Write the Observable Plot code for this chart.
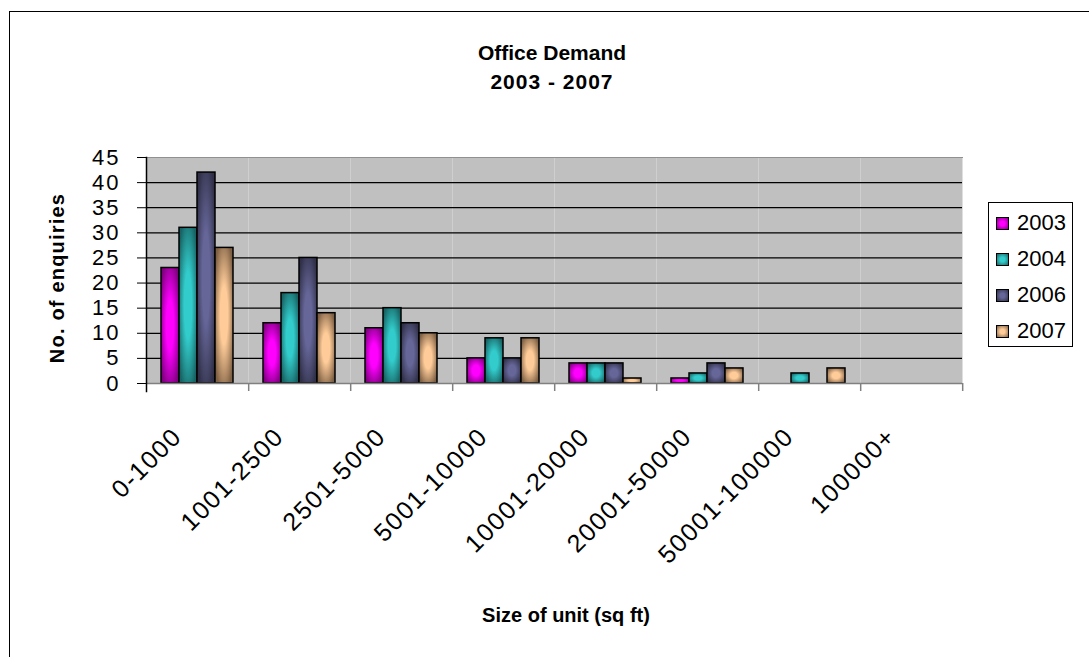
<!DOCTYPE html>
<html>
<head>
<meta charset="utf-8">
<script src="https://cdn.jsdelivr.net/npm/d3@7"></script>
<script src="https://cdn.jsdelivr.net/npm/@observablehq/plot@0.6"></script>
<style>
  html, body { margin: 0; padding: 0; background: #fff; }
  body { width: 1089px; height: 657px; position: relative; overflow: hidden;
         font-family: "Liberation Sans", Arial, sans-serif; color: #000; }
  #border { position: absolute; left: 9px; top: 11px; width: 2000px; height: 2000px;
            border-left: 1.5px solid #000; border-top: 1.5px solid #000; }
  #chart { position: absolute; left: 0; top: 0; }
  .title { position: absolute; left: 552px; transform: translateX(-50%); font-weight: bold;
           font-size: 21px; line-height: 21px; white-space: nowrap; }
  #ytitle { position: absolute; left: 57px; top: 278px; transform: translate(-50%, -50%) rotate(-90deg);
            font-weight: bold; font-size: 20px; letter-spacing: 1.2px; white-space: nowrap; line-height: 20px; }
  #xtitle { position: absolute; left: 566px; top: 605px; transform: translateX(-50%);
            font-weight: bold; font-size: 20px; line-height: 20px; white-space: nowrap; }
  #legend { position: absolute; left: 988px; top: 202px; width: 85px; height: 145px; box-sizing: border-box;
            border: 1px solid #000; background: #fff; padding-top: 2px; }
  .item { height: 36px; display: flex; align-items: center; font-size: 22px; }
  .sw { width: 13px; height: 13px; box-sizing: border-box; border: 1px solid #000; margin-left: 7px; margin-right: 8px; }
</style>
</head>
<body>
<div id="border"></div>
<div id="chart"></div>
<div class="title" id="t1" style="top:42px">Office Demand</div>
<div class="title" id="t2" style="top:71px; letter-spacing:1px">2003 - 2007</div>
<div id="ytitle">No. of enquiries</div>
<div id="xtitle">Size of unit (sq ft)</div>
<div id="legend"></div>
<script>
// ---- data ----
const categories = ["0-1000", "1001-2500", "2501-5000", "5001-10000", "10001-20000", "20001-50000", "50001-100000", "100000+"];
const years = ["2003", "2004", "2006", "2007"];
const v2003 = [23, 12, 11, 5, 4, 1, 0, 0];
const v2004 = [31, 18, 15, 9, 4, 2, 2, 0];
const v2006 = [42, 25, 12, 5, 4, 4, 0, 0];
const v2007 = [27, 14, 10, 9, 1, 3, 3, 0];
const yTicks = [0, 5, 10, 15, 20, 25, 30, 35, 40, 45];
const lightColors = ["#FF00FF", "#33CCCC", "#666699", "#FFCC99"];
const darkColors = ["#800080", "#186464", "#303048", "#7E6044"];

const seriesValues = [v2003, v2004, v2006, v2007];
const rows = categories.flatMap((c, i) => years.map((y, j) => ({category: c, year: y, value: seriesValues[j][i]})));

// ---- layout ----
const W = 1089, H = 657;
const mL = 144, mR = 126, mT = 157, mB = 274;
const step = (W - mL - mR) / categories.length;
const font = '"Liberation Sans", Arial, sans-serif';

const chart = Plot.plot({
  width: W, height: H,
  marginLeft: mL, marginRight: mR, marginTop: mT, marginBottom: mB,
  style: {fontFamily: font, background: "none", overflow: "visible", color: "#000"},
  fx: {domain: categories, padding: 0, label: null},
  x: {domain: years, paddingInner: 0, paddingOuter: 0.768, axis: null},
  y: {domain: [0, 45]},
  color: {domain: years, range: years.map(y => `url(#grad-${y})`)},
  marks: [
    Plot.frame({fill: "#C0C0C0", stroke: null}),
    Plot.gridY(yTicks.filter(t => t > 0 && t < 45), {stroke: "#000", strokeOpacity: 1, strokeWidth: 1.2}),
    Plot.frame({anchor: "top", stroke: "#909090"}),
    Plot.barY(rows, {filter: d => d.value > 0, fx: "category", x: "year", y: "value", fill: "year",
                     stroke: "#000", strokeWidth: 1.5}),
    Plot.ruleY([0], {stroke: "#808080", strokeWidth: 1.5}),
    Plot.axisY(yTicks, {anchor: "left", tickSize: 9, tickPadding: 17, fontSize: 22, label: null, stroke: "#000"}),
    Plot.frame({anchor: "left", facetAnchor: "left", stroke: "#000", strokeWidth: 1.5, insetBottom: -8}),
    Plot.axisFx({anchor: "bottom", tickSize: 8, tickFormat: () => "", dx: step / 2, stroke: "#808080", strokeWidth: 1.5, label: null}),
    Plot.axisFx({anchor: "bottom", tickSize: 0, tickPadding: 49, tickRotate: -45, fontSize: 25, dx: -20, label: null})
  ]
});

// gradient definitions for the bar fills
const svg = d3.select(chart);
const defs = svg.insert("defs", ":first-child");
years.forEach((y, j) => {
  const g = defs.append("radialGradient").attr("id", "grad-" + y)
    .attr("cx", 0.5).attr("cy", 0.5).attr("r", 0.6);
  g.append("stop").attr("offset", 0).attr("stop-color", lightColors[j]);
  g.append("stop").attr("offset", 0.35).attr("stop-color", lightColors[j]);
  g.append("stop").attr("offset", 1).attr("stop-color", darkColors[j]);
});
svg.selectAll('g[aria-label="fx-axis tick label"] text').style("letter-spacing", "1.5px");
svg.selectAll('g[aria-label="y-axis tick label"] text').style("letter-spacing", "2px");

document.getElementById("chart").appendChild(chart);

// legend
const legend = d3.select("#legend");
years.forEach((y, j) => {
  const it = legend.append("div").attr("class", "item");
  it.append("div").attr("class", "sw")
    .style("background", `radial-gradient(circle, ${lightColors[j]} 30%, ${darkColors[j]} 100%)`);
  it.append("span").text(y);
});
</script>
</body>
</html>
